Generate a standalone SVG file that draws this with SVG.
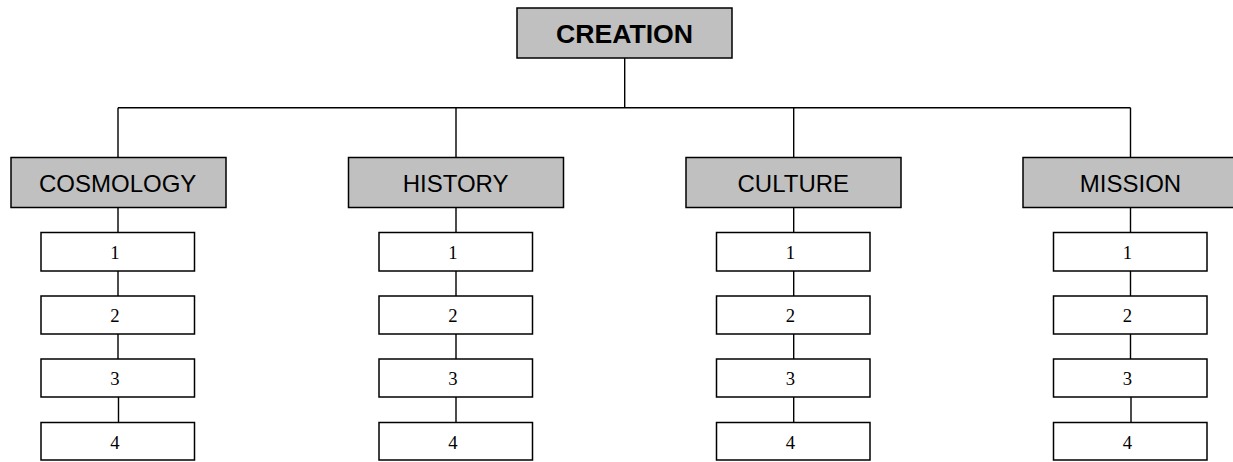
<svg xmlns="http://www.w3.org/2000/svg" width="1233" height="462" viewBox="0 0 1233 462">
<style>
.hdr{fill:#C0C0C0;stroke:#000;stroke-width:1.5}
.item{fill:#fff;stroke:#000;stroke-width:1.5}
.ht{font-family:"Liberation Sans",Arial,sans-serif;font-size:24px;text-anchor:middle;fill:#000}
.top{font-family:"Liberation Sans",Arial,sans-serif;font-size:26.67px;font-weight:bold;text-anchor:middle;fill:#000}
.it{font-family:"Liberation Serif","Times New Roman",serif;font-size:18.67px;text-anchor:middle;fill:#000}
.ln{stroke:#000;stroke-width:1.4;fill:none}
</style>
<rect width="1233" height="462" fill="#fff"/>
<g id="connectors" class="ln">
<path d="M624.7 58V107.7M118 107.7H1130.5M118 107.7V157.5M456 107.7V157.5M793.7 107.7V157.5M1130.5 107.7V157.5"/>
<path d="M118 207.5V232.5M118 271V296M118 334V359M118.5 397V422.5"/>
<path d="M456 207.5V232.5M456 271V296M456 334V359M456 397V422.5"/>
<path d="M793.7 207.5V232.5M793.7 271V296M793.7 334V359M793.7 397V422.5"/>
<path d="M1130.5 207.5V232.5M1130.5 271V296M1130.5 334V359M1131 397V422.5"/>
</g>
<g id="creation"><rect class="hdr" x="517" y="8" width="215" height="50"/><text class="top" x="624.5" y="43.3">CREATION</text></g>
<g id="cosmology"><rect class="hdr" x="11" y="157.5" width="215" height="50"/><text class="ht" x="117.7" y="191.5">COSMOLOGY</text></g>
<g id="history"><rect class="hdr" x="348.5" y="157.5" width="215" height="50"/><text class="ht" x="455.6" y="191.5">HISTORY</text></g>
<g id="culture"><rect class="hdr" x="686" y="157.5" width="215" height="50"/><text class="ht" x="793.3" y="191.5">CULTURE</text></g>
<g id="mission"><rect class="hdr" x="1023" y="157.5" width="215" height="50"/><text class="ht" x="1130.5" y="191.5">MISSION</text></g>
<g id="cosmology-1"><rect class="item" x="41" y="232.5" width="153.5" height="38.5"/><text class="it" x="114.8" y="258.5">1</text></g>
<g id="cosmology-2"><rect class="item" x="41" y="296" width="153.5" height="38"/><text class="it" x="114.8" y="322">2</text></g>
<g id="cosmology-3"><rect class="item" x="41" y="359" width="153.5" height="38"/><text class="it" x="114.8" y="385">3</text></g>
<g id="cosmology-4"><rect class="item" x="41" y="422.5" width="153.5" height="37.5"/><text class="it" x="114.8" y="448.5">4</text></g>
<g id="history-1"><rect class="item" x="379" y="232.5" width="153.5" height="38.5"/><text class="it" x="452.8" y="258.5">1</text></g>
<g id="history-2"><rect class="item" x="379" y="296" width="153.5" height="38"/><text class="it" x="452.8" y="322">2</text></g>
<g id="history-3"><rect class="item" x="379" y="359" width="153.5" height="38"/><text class="it" x="452.8" y="385">3</text></g>
<g id="history-4"><rect class="item" x="379" y="422.5" width="153.5" height="37.5"/><text class="it" x="452.8" y="448.5">4</text></g>
<g id="culture-1"><rect class="item" x="716.5" y="232.5" width="153.5" height="38.5"/><text class="it" x="790.3" y="258.5">1</text></g>
<g id="culture-2"><rect class="item" x="716.5" y="296" width="153.5" height="38"/><text class="it" x="790.3" y="322">2</text></g>
<g id="culture-3"><rect class="item" x="716.5" y="359" width="153.5" height="38"/><text class="it" x="790.3" y="385">3</text></g>
<g id="culture-4"><rect class="item" x="716.5" y="422.5" width="153.5" height="37.5"/><text class="it" x="790.3" y="448.5">4</text></g>
<g id="mission-1"><rect class="item" x="1053.5" y="232.5" width="153.5" height="38.5"/><text class="it" x="1127.3" y="258.5">1</text></g>
<g id="mission-2"><rect class="item" x="1053.5" y="296" width="153.5" height="38"/><text class="it" x="1127.3" y="322">2</text></g>
<g id="mission-3"><rect class="item" x="1053.5" y="359" width="153.5" height="38"/><text class="it" x="1127.3" y="385">3</text></g>
<g id="mission-4"><rect class="item" x="1053.5" y="422.5" width="153.5" height="37.5"/><text class="it" x="1127.3" y="448.5">4</text></g>
</svg>
